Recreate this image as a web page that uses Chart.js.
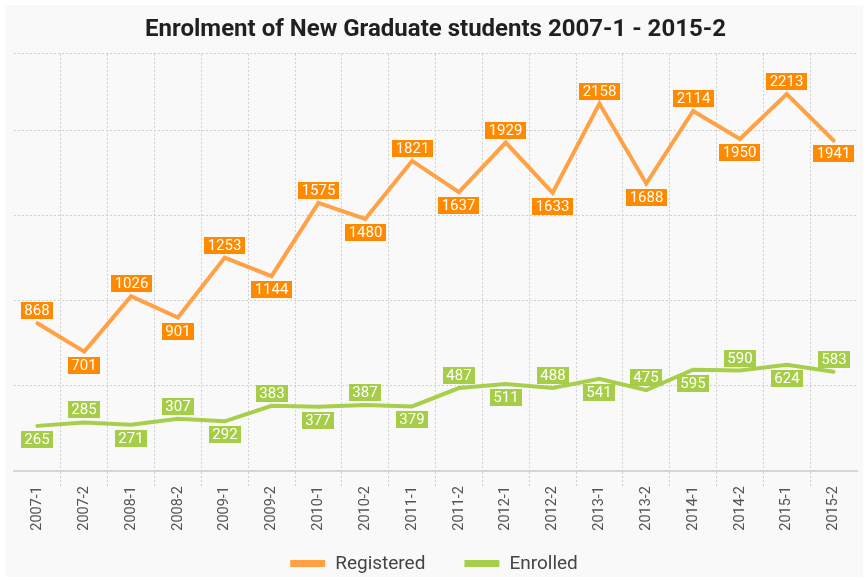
<!DOCTYPE html>
<html><head><meta charset="utf-8">
<script src="https://cdn.jsdelivr.net/npm/chart.js@4.4.1/dist/chart.umd.min.js"></script>
<style>html,body{margin:0;padding:0;background:#fff;}#wrap{width:868px;height:581px;}</style>
</head><body><div id="wrap"><canvas id="c" width="868" height="581"></canvas></div>
<script>
const categories = ['2007-1','2007-2','2008-1','2008-2','2009-1','2009-2','2010-1','2010-2','2011-1','2011-2','2012-1','2012-2','2013-1','2013-2','2014-1','2014-2','2015-1','2015-2'];
const registered = [868,701,1026,901,1253,1144,1575,1480,1821,1637,1929,1633,2158,1688,2114,1950,2213,1941];
const enrolled = [265,285,271,307,292,383,377,387,379,487,511,488,541,475,595,590,624,583];
const yTicks = [0,500,1000,1500,2000,2450];
const seriesNames = ['Registered','Enrolled'];
const titleText = 'Enrolment of New Graduate students 2007-1 - 2015-2';

const FONT = 'Roboto';
const GRID = '#cfcfcf';

const bgPlugin = {
  id: 'bg',
  beforeDraw(chart) {
    const ctx = chart.ctx;
    ctx.save();
    ctx.fillStyle = '#ffffff';
    ctx.fillRect(0, 0, chart.width, chart.height);
    ctx.fillStyle = '#f9f9f9';
    ctx.fillRect(5, 5, chart.width - 10, chart.height - 9);
    ctx.restore();
  }
};

const labelPlugin = {
  id: 'valueLabels',
  afterDatasetsDraw(chart) {
    const ctx = chart.ctx;
    ctx.save();
    ctx.font = '15px ' + FONT;
    ctx.textAlign = 'center';
    ctx.textBaseline = 'middle';
    chart.data.datasets.forEach((ds, di) => {
      const meta = chart.getDatasetMeta(di);
      meta.data.forEach((pt, i) => {
        const txt = String(ds.data[i]);
        const w = Math.round(ctx.measureText(txt).width + 7);
        const h = 17;
        const above = (i % 2 === 0) === (di === 0);
        const y = Math.round(above ? pt.y - 4 - h : pt.y + 5);
        const x = Math.round(pt.x - w / 2);
        ctx.fillStyle = ds.labelBg;
        ctx.fillRect(x, y, w, h);
        ctx.fillStyle = '#ffffff';
        ctx.fillText(txt, x + w / 2, y + h / 2 + 1);
      });
    });
    ctx.restore();
  }
};

const legendPlugin = {
  id: 'customLegend',
  afterDraw(chart) {
    const ctx = chart.ctx;
    ctx.save();
    ctx.font = '19px ' + FONT;
    ctx.textBaseline = 'middle';
    ctx.textAlign = 'left';
    const boxW = 35, boxH = 7, gap = 10, itemGap = 39;
    const items = chart.data.datasets.map(ds => ({ label: ds.label, color: ds.borderColor, w: ctx.measureText(ds.label).width }));
    const total = items.reduce((s, it) => s + boxW + gap + it.w, 0) + itemGap * (items.length - 1);
    let x = chart.width / 2 - total / 2;
    const cy = 563;
    items.forEach(it => {
      ctx.fillStyle = it.color;
      ctx.fillRect(x, cy - 3, boxW, boxH);
      x += boxW + gap;
      ctx.fillStyle = '#444444';
      ctx.fillText(it.label, x, cy + 1);
      x += it.w + itemGap;
    });
    ctx.restore();
  }
};

const innerGrid = c => (c.index > 0 && c.index < categories.length) ? GRID : 'rgba(0,0,0,0)';

new Chart(document.getElementById('c'), {
  type: 'line',
  data: {
    labels: categories,
    datasets: [
      { label: seriesNames[0], data: registered, borderColor: '#ffa144', labelBg: '#ff8a00', borderWidth: 4, pointRadius: 0, tension: 0, borderCapStyle: 'round', clip: false },
      { label: seriesNames[1], data: enrolled, borderColor: '#a8cf4c', labelBg: '#a5cd48', borderWidth: 4, pointRadius: 0, tension: 0, borderCapStyle: 'round', clip: false }
    ]
  },
  options: {
    responsive: false,
    animation: false,
    devicePixelRatio: 1,
    layout: { padding: { left: 14, right: 11, top: 0, bottom: 0 } },
    plugins: {
      legend: { display: false },
      tooltip: { enabled: false },
      title: {
        display: true,
        text: titleText,
        color: '#231f20',
        font: { family: FONT, size: 24, weight: 'bold' },
        padding: { top: 16, bottom: 9 }
      }
    },
    scales: {
      x: {
        offset: true,
        grid: { offset: true, color: innerGrid, lineWidth: 1, drawTicks: true, tickLength: 15, tickColor: innerGrid, tickBorderDash: [2, 2] },
        border: { display: true, color: '#d6d6d6', width: 2, dash: [2, 2] },
        ticks: { minRotation: 90, maxRotation: 90, color: '#555555', font: { family: FONT, size: 14.5 }, padding: 0, autoSkip: false },
        afterFit(s) { s.height = 110; }
      },
      y: {
        min: 0,
        max: 2450,
        afterBuildTicks(s) { s.ticks = yTicks.map(v => ({ value: v })); },
        grid: { color: GRID, lineWidth: 1, drawTicks: false },
        border: { display: false, dash: [2, 2] },
        ticks: { display: false },
        afterFit(s) { s.width = 0; }
      }
    }
  },
  plugins: [bgPlugin, labelPlugin, legendPlugin]
});
</script>
</body></html>
